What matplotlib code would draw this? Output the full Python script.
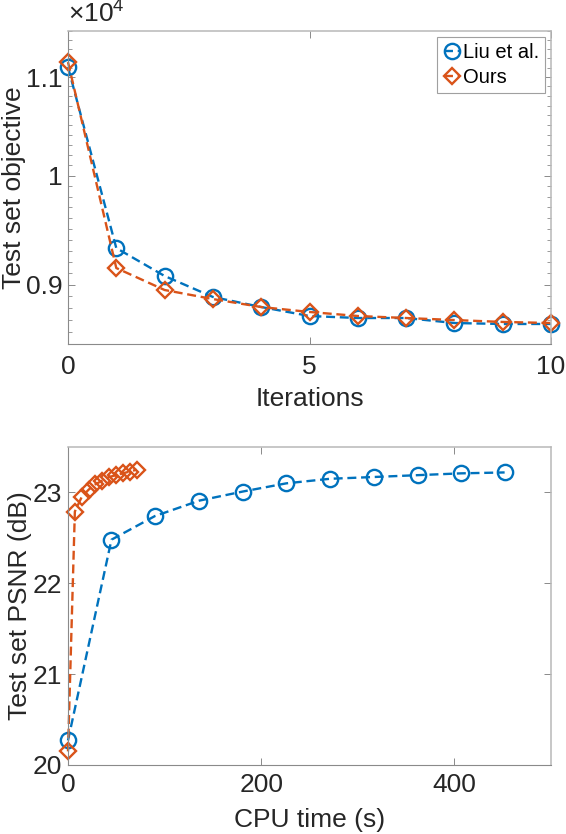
import matplotlib
matplotlib.use("Agg")
import matplotlib.pyplot as plt
from matplotlib.ticker import FuncFormatter, FixedLocator, NullFormatter

plt.rcParams['font.family'] = ['Liberation Sans', 'DejaVu Sans']
plt.rcParams['mathtext.fontset'] = 'custom'
plt.rcParams['mathtext.rm'] = 'Liberation Sans'
plt.rcParams['mathtext.it'] = 'Liberation Sans'

# ---- data ----
iterations = [0, 1, 2, 3, 4, 5, 6, 7, 8, 9, 10]
obj_liu = [11106, 9325, 9077, 8895, 8809, 8733, 8716, 8716, 8674, 8666, 8666]
obj_ours = [11160, 9147, 8955, 8877, 8809, 8767, 8733, 8716, 8699, 8683, 8674]

time_liu = [0, 45, 90, 136, 181, 226, 271, 317, 362, 407, 452]
psnr_liu = [20.27, 22.48, 22.74, 22.91, 23.01, 23.10, 23.15, 23.17, 23.19, 23.21, 23.22]
time_ours = [0, 7.1, 14.2, 21.3, 28.4, 35.5, 42.6, 49.7, 56.8, 63.9, 71.0]
psnr_ours = [20.15, 22.79, 22.95, 23.03, 23.09, 23.13, 23.17, 23.19, 23.21, 23.23, 23.25]

labels = ['Liu et al.', 'Ours']

BLUE = '#0072BD'
ORANGE = '#D95319'
TXT = '#262626'
FS = 19

fig = plt.figure(figsize=(5.66, 8.34), dpi=100)
ax1 = fig.add_axes([68/566, 1-344/834, (551-68)/566, (344-31)/834])
ax2 = fig.add_axes([68/566, 1-765/834, (551-68)/566, (765-447)/834])

def style(ax):
    for s in ['left', 'bottom']:
        ax.spines[s].set_color('#8a8a8a')
        ax.spines[s].set_linewidth(0.8)
    for s in ['top', 'right']:
        ax.spines[s].set_color('#b8b8b8')
        ax.spines[s].set_linewidth(1.1)
    ax.tick_params(which='both', direction='in', top=True, right=True,
                   colors='#8a8a8a', labelcolor=TXT, labelsize=FS)
    ax.tick_params(which='major', length=5, width=0.7)
    ax.tick_params(which='minor', length=3, width=0.6)
    ax.tick_params(axis='y', pad=4)

line_kw = dict(linestyle='--', linewidth=1.7, dashes=(3.8, 2.0))

# ---- top (log y) ----
ax1.plot(iterations, obj_liu, color=BLUE, marker='o', markersize=11,
         markerfacecolor='none', markeredgewidth=1.7, label=labels[0], **line_kw)
ax1.plot(iterations, obj_ours, color=ORANGE, marker='D', markersize=8.6,
         markerfacecolor='none', markeredgewidth=1.7, label=labels[1], **line_kw)
ax1.set_yscale('log')
ax1.set_xlim(0, 10)
ax1.set_ylim(8500, 11500)
ax1.xaxis.set_major_locator(FixedLocator([0, 5, 10]))
ax1.xaxis.set_minor_locator(FixedLocator([]))
ax1.yaxis.set_major_locator(FixedLocator([9000, 10000, 11000]))
ax1.yaxis.set_minor_locator(FixedLocator([v for v in range(8500, 11501, 100)
                                          if v % 1000 != 0]))
ax1.yaxis.set_major_formatter(FuncFormatter(lambda v, p: '%g' % (v / 1e4)))
ax1.yaxis.set_minor_formatter(NullFormatter())
style(ax1)
ax1.tick_params(axis='x', pad=8)
ax1.set_xlabel('Iterations', fontsize=FS, color=TXT, labelpad=6)
ax1.set_ylabel('Test set objective', fontsize=FS, color=TXT)
ax1.yaxis.set_label_coords((26 - 68) / 483, 0.5)
ax1.text(0.0, 1.01, r'$\times10^{4}$', transform=ax1.transAxes, fontsize=FS,
         color=TXT, ha='left', va='bottom')
leg = ax1.legend(loc='upper right', fontsize=14.5, handlelength=0.8,
                 handletextpad=0.15, borderpad=0.3, labelspacing=0.3,
                 fancybox=False, framealpha=1, borderaxespad=0.3)
leg.get_frame().set_edgecolor('#a0a0a0')
leg.get_frame().set_linewidth(0.8)
for t in leg.get_texts():
    t.set_color('black')

# ---- bottom ----
ax2.plot(time_liu, psnr_liu, color=BLUE, marker='o', markersize=11,
         markerfacecolor='none', markeredgewidth=1.7, **line_kw)
ax2.plot(time_ours, psnr_ours, color=ORANGE, marker='D', markersize=8.6,
         markerfacecolor='none', markeredgewidth=1.7, **line_kw)
ax2.set_xlim(0, 500)
ax2.set_ylim(20, 23.5)
ax2.xaxis.set_major_locator(FixedLocator([0, 200, 400]))
ax2.yaxis.set_major_locator(FixedLocator([20, 21, 22, 23]))
ax2.yaxis.set_major_formatter(FuncFormatter(lambda v, p: '%g' % v))
ax2.xaxis.set_major_formatter(FuncFormatter(lambda v, p: '%g' % v))
style(ax2)
ax2.tick_params(axis='x', pad=6)
ax2.set_xlabel('CPU time (s)', fontsize=FS, color=TXT, labelpad=8)
ax2.set_ylabel('Test set PSNR (dB)', fontsize=FS, color=TXT)
ax2.yaxis.set_label_coords((32 - 68) / 483, 0.5)

for a in (ax1, ax2):
    for l in a.lines:
        l.set_clip_on(False)

fig.savefig('out.png', dpi=100)
